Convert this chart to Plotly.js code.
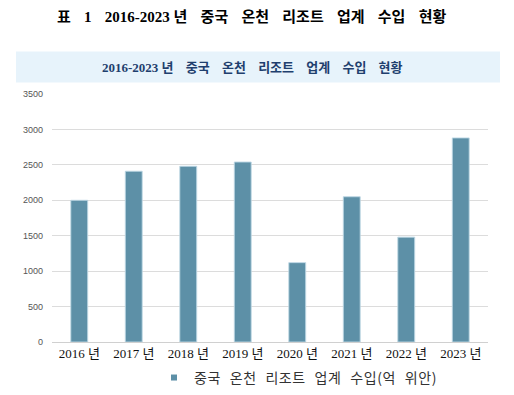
<!DOCTYPE html>
<html>
<head>
<meta charset="utf-8">
<script src="https://cdn.plot.ly/plotly-3.0.1.min.js"></script>
<style>html,body{margin:0;padding:0;background:#fff;}#chart{width:514px;height:395px;}</style>
</head>
<body>
<div id="chart"></div>
<script>
const categories = ["2016 년","2017 년","2018 년","2019 년","2020 년","2021 년","2022 년","2023 년"];
const revenue = [2000, 2410, 2480, 2540, 1120, 2050, 1480, 2880];
const seriesName = "중국 온천 리조트 업계 수입(억 위안)";
const mainTitleParts = ["표 1 2016-2023", "년 중국 온천 리조트 업계 수입 현황"];
const subTitleParts = ["2016-2023", "년 중국 온천 리조트 업계 수입 현황"];
const yTicks = [0,500,1000,1500,2000,2500,3000,3500];

const barColor = "#5d90a7";
const serifKR = "'Liberation Serif', 'DejaVu Serif', 'Noto Sans CJK KR', serif";

function spaced(parts, style) {
  return parts.map(p => '<span style="' + style + '">' + p + '</span>').join(' ');
}

const traces = [
  {
    type: "bar",
    x: categories,
    y: revenue,
    name: seriesName,
    showlegend: false,
    marker: {color: barColor, line: {color: "rgba(190,215,228,0.9)", width: 1}},
    hoverinfo: "x+y"
  },
  {
    type: "scatter",
    mode: "markers",
    x: [null],
    y: [null],
    name: '<span style="word-spacing:5px;letter-spacing:0.6px">' + seriesName + '</span>',
    showlegend: true,
    marker: {symbol: "square", size: 6, color: barColor}
  }
];

const layout = {
  width: 514,
  height: 395,
  paper_bgcolor: "#ffffff",
  plot_bgcolor: "#ffffff",
  margin: {l: 52, r: 26, t: 93.5, b: 53, pad: 0, autoexpand: false},
  bargap: 0.69,
  showlegend: true,
  legend: {
    orientation: "h",
    x: (154 - 52) / 436, xanchor: "left",
    y: (342 - 378) / 248.5, yanchor: "middle",
    font: {family: "'Noto Sans CJK KR', sans-serif", size: 14, color: "#333333"},
    itemwidth: 30,
    bgcolor: "rgba(0,0,0,0)"
  },
  xaxis: {
    type: "category",
    showgrid: false,
    showline: false,
    zeroline: false,
    ticks: "",
    tickfont: {family: serifKR, size: 13, color: "#111111"},
    ticklabelstandoff: 2,
    fixedrange: true
  },
  yaxis: {
    range: [0, 3500],
    tickvals: yTicks,
    ticktext: yTicks.map(String),
    showgrid: true,
    gridcolor: "#dcdcdc",
    gridwidth: 1,
    zeroline: true,
    zerolinecolor: "#d0d0d0",
    zerolinewidth: 1,
    showline: false,
    ticks: "",
    tickfont: {family: "'Liberation Sans', Arial, sans-serif", size: 9, color: "#555555"},
    ticklabelstandoff: 8,
    fixedrange: true
  },
  shapes: [
    {
      type: "rect", xref: "paper", yref: "paper",
      x0: (16 - 52) / 436, x1: (500 - 52) / 436,
      y0: (342 - 82) / 248.5, y1: (342 - 51) / 248.5,
      fillcolor: "#e7f3fb", line: {width: 0}, layer: "below"
    }
  ],
  annotations: [
    {
      text: spaced(mainTitleParts, "font-weight:bold;word-spacing:9.5px"),
      xref: "paper", yref: "paper",
      x: (251 - 52) / 436, y: (342 - 16) / 248.5,
      xanchor: "center", yanchor: "middle",
      showarrow: false,
      font: {family: serifKR, size: 15, color: "#000000"}
    },
    {
      text: spaced(subTitleParts, "font-weight:bold;word-spacing:9px"),
      xref: "paper", yref: "paper",
      x: (252.5 - 52) / 436, y: (342 - 67) / 248.5,
      xanchor: "center", yanchor: "middle",
      showarrow: false,
      font: {family: serifKR, size: 13, color: "#1f3f6e"}
    }
  ]
};

Plotly.newPlot("chart", traces, layout, {displayModeBar: false, staticPlot: true});
</script>
</body>
</html>
